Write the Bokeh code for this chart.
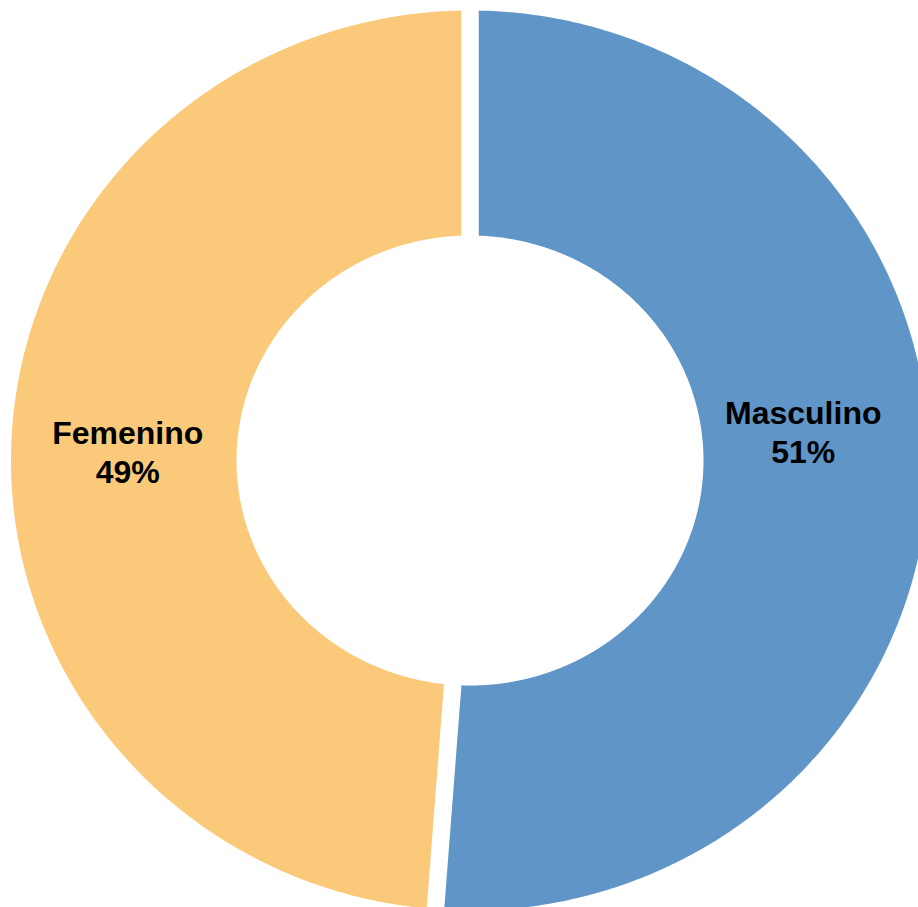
import numpy as np
from bokeh.plotting import figure
from bokeh.models import Range1d, ColumnDataSource
from bokeh.embed import file_html
from bokeh.resources import INLINE
from bokeh.core.properties import value

# ---- data ----
categories = ["Masculino", "Femenino"]
shares = [51.2, 48.8]
colors = ["#6095C8", "#FACA7A"]

# ---- layout / style ----
W, H = 918, 907
cx, cy = 469.5, 460.0
outer_rx, outer_ry = 459.0, 450.0
inner_rx, inner_ry = 233.5, 225.0
gap_width = 17.5
label_r = 338.0
label_dx = -4.5
label_name_dy = [-48.0, -28.0]
line_gap = 39.0

p = figure(width=W, height=H, x_range=Range1d(0, W), y_range=Range1d(H, 0),
           output_backend="svg", toolbar_location=None,
           x_axis_type=None, y_axis_type=None, min_border=0,
           outline_line_color=None, background_fill_color="white",
           border_fill_color="white")
p.grid.visible = False

total = float(sum(shares))
fracs = np.array(shares) / total
ends = np.cumsum(fracs) * 2 * np.pi
starts = np.concatenate([[0.0], ends[:-1]])

xs, ys = [], []
for a0, a1 in zip(starts, ends):
    t = np.linspace(a0, a1, 400)
    ox = cx + outer_rx * np.sin(t)
    oy = cy - outer_ry * np.cos(t)
    ix = cx + inner_rx * np.sin(t[::-1])
    iy = cy - inner_ry * np.cos(t[::-1])
    xs.append(list(np.concatenate([ox, ix])))
    ys.append(list(np.concatenate([oy, iy])))

p.patches(xs=xs, ys=ys, fill_color=colors, line_color=None)

# separator gaps at slice boundaries
bx0, by0, bx1, by1 = [], [], [], []
for a in starts:
    bx0.append(cx)
    by0.append(cy)
    bx1.append(cx + outer_rx * 1.1 * np.sin(a))
    by1.append(cy - outer_ry * 1.1 * np.cos(a))
p.segment(x0=bx0, y0=by0, x1=bx1, y1=by1, line_color="white",
          line_width=gap_width, line_cap="butt")

# labels
mids = (starts + ends) / 2
lx = [cx + label_r * np.sin(m) + label_dx for m in mids]
name_y = [cy + d for d in label_name_dy]
pct_y = [y + line_gap for y in name_y]
pct_txt = [f"{round(f * 100)}%" for f in fracs]

src = ColumnDataSource(dict(x=lx, ny=name_y, py=pct_y, name=categories, pct=pct_txt))
common = dict(text_font=value("Liberation Sans"), text_font_style="bold",
              text_font_size="32px", text_align="center",
              text_baseline="alphabetic", text_color="black")
p.text(x="x", y="ny", text="name", source=src, **common)
p.text(x="x", y="py", text="pct", source=src, **common)

open("out.html", "w").write(file_html(p, INLINE))
